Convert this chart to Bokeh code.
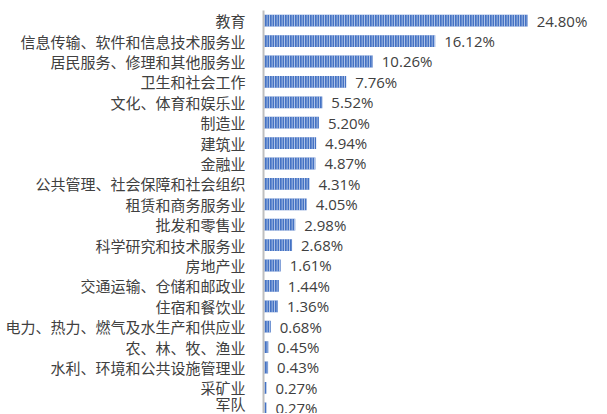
from bokeh.plotting import figure
from bokeh.models import Range1d, FixedTicker, LinearAxis, ColumnDataSource
from bokeh.embed import file_html
from bokeh.resources import INLINE
from bokeh.core.properties import value

categories = ["教育", "信息传输、软件和信息技术服务业", "居民服务、修理和其他服务业", "卫生和社会工作",
              "文化、体育和娱乐业", "制造业", "建筑业", "金融业", "公共管理、社会保障和社会组织",
              "租赁和商务服务业", "批发和零售业", "科学研究和技术服务业", "房地产业",
              "交通运输、仓储和邮政业", "住宿和餐饮业", "电力、热力、燃气及水生产和供应业",
              "农、林、牧、渔业", "水利、环境和公共设施管理业", "采矿业", "军队"]
values = [24.80, 16.12, 10.26, 7.76, 5.52, 5.20, 4.94, 4.87, 4.31, 4.05,
          2.98, 2.68, 1.61, 1.44, 1.36, 0.68, 0.45, 0.43, 0.27, 0.27]

n = len(categories)
ypos = [n - 1 - i for i in range(n)]
labels = ["%.2f%%" % v for v in values]
src = ColumnDataSource(dict(y=ypos, v=values, lab=labels))

p = figure(width=606, height=413, output_backend="svg", toolbar_location=None,
           x_range=Range1d(0, 32.2), y_range=Range1d(-0.255, n - 0.5),
           x_axis_location=None, y_axis_location=None,
           min_border_left=263, min_border_right=0, min_border_top=10, min_border_bottom=0)
p.outline_line_color = None
p.grid.visible = False
p.background_fill_color = "white"
p.border_fill_color = "white"

p.hbar(y="y", right="v", left=0, height=0.58, source=src,
       fill_color="#4472c4", line_color=None,
       hatch_pattern="vertical_line", hatch_color="white", hatch_alpha=0.7,
       hatch_scale=2.5, hatch_weight=1)

p.text(x="v", y="y", text="lab", source=src, x_offset=9,
       text_align="left", text_baseline="middle",
       text_font=value("Open Sans"), text_font_size="15px", text_color="#404040")

ax = LinearAxis(ticker=FixedTicker(ticks=ypos),
                major_label_overrides={y: c for y, c in zip(ypos, categories)})
ax.major_tick_line_color = None
ax.minor_tick_line_color = None
ax.axis_line_color = "#bfbfbf"
ax.axis_line_width = 2
ax.major_label_standoff = 12
ax.major_label_text_font = "Noto Sans CJK SC"
ax.major_label_text_font_size = "15px"
ax.major_label_text_color = "#404040"
p.add_layout(ax, "left")

open("out.html", "w").write(file_html(p, INLINE))
